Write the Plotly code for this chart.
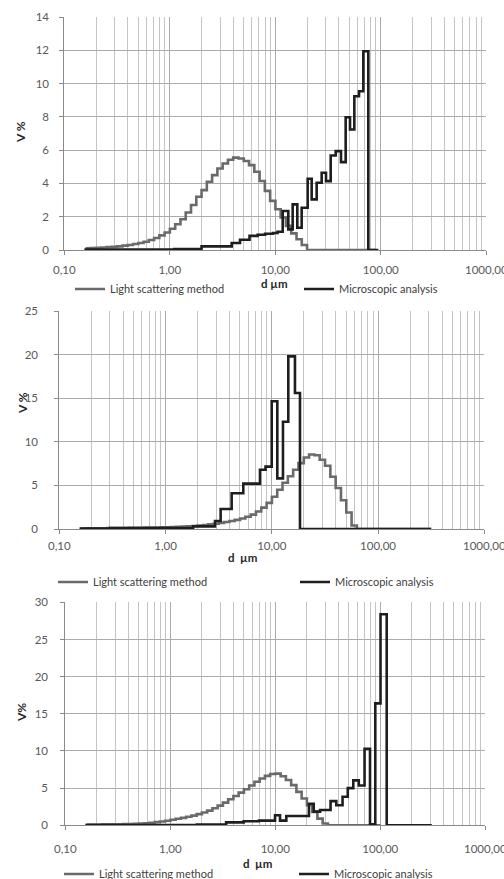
import plotly.graph_objects as go

W, H = 504, 879

# ---------------- data ----------------
# laser-diffraction size classes (µm), bin starts
ls_classes = [0.159, 0.178, 0.200, 0.224, 0.252, 0.283, 0.317, 0.356, 0.399, 0.448,
              0.502, 0.564, 0.632, 0.710, 0.796, 0.893, 1.002, 1.125, 1.262, 1.416,
              1.589, 1.783, 2.000, 2.244, 2.518, 2.825, 3.170, 3.557, 3.991, 4.477,
              5.024, 5.637, 6.325, 7.096, 7.962, 8.934, 10.024, 11.247, 12.619, 14.159,
              15.887, 17.825, 20.000, 22.440, 25.179, 28.251, 31.698, 35.566, 39.905, 44.774,
              50.238, 56.368, 63.246, 70.963, 79.621, 89.337, 100.237, 112.468, 126.191, 141.589,
              158.866, 178.250, 200.000, 224.404, 251.785, 282.508, 316.979]

# Panel 1
ls1_v = [0.10, 0.12, 0.13, 0.15, 0.17, 0.19, 0.22, 0.26, 0.30, 0.36,
         0.42, 0.50, 0.60, 0.72, 0.88, 1.05, 1.28, 1.55, 1.85, 2.25,
         2.70, 3.20, 3.60, 4.10, 4.50, 4.90, 5.20, 5.42, 5.55, 5.50,
         5.35, 5.10, 4.70, 4.15, 3.55, 2.95, 2.45, 1.95, 1.45, 1.00,
         0.65, 0.30, 0.0, 0.0, 0.0, 0.0, 0.0, 0.0, 0.0, 0.0,
         0.0, 0.0, 0.0, 0.0, 0.0, 0.0]
mic1_d = [0.155, 1.10, 2.00, 3.86, 4.63, 5.70, 6.80, 8.00, 9.50, 10.50,
          11.75, 13.29, 14.61, 16.17, 17.78, 20.27, 22.12, 24.67, 27.51, 30.24,
          33.49, 37.35, 41.95, 46.45, 51.07, 56.13, 62.17, 68.31, 76.18, 94.76]
mic1_v = [0.02, 0.06, 0.22, 0.42, 0.62, 0.85, 0.92, 0.98, 1.02, 1.10,
          2.34, 1.24, 2.74, 1.34, 2.54, 4.28, 3.04, 4.04, 4.64, 4.14,
          5.68, 5.94, 5.28, 7.98, 7.24, 9.24, 9.54, 11.94, 0.0, 0.0]

# Panel 2
ls2_v = [0.05, 0.07, 0.08, 0.08, 0.09, 0.10, 0.10, 0.11, 0.12, 0.13,
         0.14, 0.15, 0.16, 0.17, 0.18, 0.19, 0.20, 0.22, 0.25, 0.28,
         0.31, 0.35, 0.40, 0.46, 0.53, 0.60, 0.70, 0.80, 0.92, 1.05,
         1.20, 1.40, 1.65, 2.00, 2.45, 3.00, 3.70, 4.50, 5.30, 6.05,
         6.80, 7.55, 8.20, 8.55, 8.45, 7.95, 7.25, 6.00, 4.70, 3.30,
         1.90, 0.40, 0.0, 0.0, 0.0, 0.0, 0.0, 0.0, 0.0, 0.0,
         0.0, 0.0, 0.0, 0.0, 0.0, 0.0, 0.0]
mic2_d = [0.155, 0.30, 1.82, 2.92, 3.30, 4.19, 5.39, 7.74, 8.73, 9.98,
          11.27, 12.74, 14.30, 16.52, 18.42, 316.0]
mic2_v = [0.05, 0.10, 0.30, 0.92, 2.30, 4.10, 5.20, 6.80, 7.15, 14.65,
          5.80, 12.30, 19.80, 15.60, 0.0, 0.0]

# Panel 3
ls3_v = [0.10, 0.10, 0.11, 0.12, 0.13, 0.14, 0.15, 0.16, 0.18, 0.20,
         0.23, 0.28, 0.35, 0.43, 0.52, 0.62, 0.75, 0.88, 1.00, 1.15,
         1.30, 1.50, 1.72, 1.98, 2.30, 2.65, 3.05, 3.50, 3.95, 4.40,
         4.85, 5.35, 5.85, 6.30, 6.65, 6.90, 6.95, 6.60, 6.10, 5.40,
         4.50, 3.60, 2.70, 1.80, 0.90, 0.25, 0.0, 0.0, 0.0, 0.0,
         0.0, 0.0, 0.0, 0.0, 0.0, 0.0, 0.0]
mic3_d = [0.155, 1.79, 3.40, 5.00, 7.00, 9.94, 11.09, 12.73, 20.9, 23.2,
          26.7, 33.6, 38.1, 43.7, 49.0, 55.3, 62.4, 70.8, 79.8, 89.6,
          100.5, 115.1, 309.0]
mic3_v = [0.02, 0.10, 0.40, 0.55, 0.63, 1.35, 0.63, 1.26, 2.90, 1.84,
          2.06, 3.25, 2.70, 3.85, 5.00, 6.05, 5.35, 10.30, 0.12, 16.40,
          28.40, 0.0, 0.0]

series_names = ["Light scattering method", "Microscopic analysis"]
x_tick_vals = [0.1, 1, 10, 100, 1000]
x_tick_text = ["0,10", "1,00", "10,00", "100,00", "1000,00"]
y1_ticks = [0, 2, 4, 6, 8, 10, 12, 14]
y2_ticks = [0, 5, 10, 15, 20, 25]
y3_ticks = [0, 5, 10, 15, 20, 25, 30]
y_titles = ["V %", "V %", "V%"]
x_titles = ["d µm", "d\u00a0\u00a0µm", "d\u00a0\u00a0µm"]

# ---------------- style ----------------
GRAY_LINE = "#6a6a6a"
BLACK_LINE = "#1e1e1e"
GRID = "#ababab"
MINOR = "#c4c4c4"
AXIS = "#8a8a8a"
TXT = "#595959"
FONT = "Lato"

minor_grid = [m * 10.0 ** e for e in range(-1, 3) for m in range(2, 10)]

def px_x(p):
    return p / W

def px_y(p):
    return 1 - p / H

# plot-area pixel boxes: (left, right, top, bottom)
boxes = [(64.3, 486.3, 17.0, 250.0),
         (59.3, 484.3, 311.0, 529.0),
         (65.3, 485.3, 602.3, 825.3)]
x_standoff = [5, 2, 9]
y_standoff = [8, 14, 10]

fig = go.Figure()

panels = [
    (ls1_v, mic1_d, mic1_v, y1_ticks, 14),
    (ls2_v, mic2_d, mic2_v, y2_ticks, 25),
    (ls3_v, mic3_d, mic3_v, y3_ticks, 30),
]
legend_ids = ["legend", "legend2", "legend3"]

for i, (lsv, md, mv, yt, ymax) in enumerate(panels):
    k = "" if i == 0 else str(i + 1)
    fig.add_trace(go.Scatter(
        x=ls_classes[:len(lsv)], y=lsv, mode="lines", name=series_names[0],
        line=dict(color=GRAY_LINE, width=2.6, shape="hv"),
        xaxis="x" + k, yaxis="y" + k, legend=legend_ids[i]))
    fig.add_trace(go.Scatter(
        x=md, y=mv, mode="lines", name=series_names[1],
        line=dict(color=BLACK_LINE, width=2.6, shape="hv"),
        xaxis="x" + k, yaxis="y" + k, legend=legend_ids[i]))

    l, r, t, b = boxes[i]
    fig.layout["xaxis" + k] = dict(
        type="log", range=[-1, 3], domain=[px_x(l), px_x(r)], anchor="y" + k,
        tickmode="array", tickvals=x_tick_vals, ticktext=x_tick_text,
        ticklabeloverflow="allow", ticklabelstandoff=x_standoff[i],
        showgrid=True, gridcolor=GRID, gridwidth=1,
        minor=dict(tickmode="array", tickvals=minor_grid, showgrid=True,
                   gridcolor=MINOR, gridwidth=1, ticks=""),
        showline=True, linecolor=AXIS, linewidth=1,
        ticks="outside", ticklen=4, tickcolor=AXIS,
        tickfont=dict(family=FONT, size=11.5, color=TXT), zeroline=False)
    fig.layout["yaxis" + k] = dict(
        range=[0, ymax], domain=[px_y(b), px_y(t)], anchor="x" + k,
        tickmode="array", tickvals=yt, ticktext=[str(v) for v in yt],
        ticklabelstandoff=y_standoff[i],
        showgrid=True, gridcolor=GRID, gridwidth=1,
        showline=True, linecolor=AXIS, linewidth=1,
        ticks="outside", ticklen=4, tickcolor=AXIS,
        tickfont=dict(family=FONT, size=11.5, color=TXT), zeroline=False)

# axis titles placed where they sit in the original
xt_pos = [(274, 283), (242, 557), (257, 863)]
yt_pos = [(20, 132), (22, 403), (21, 713)]
ann = []
for i in range(3):
    ann.append(dict(text="<b>%s</b>" % x_titles[i], x=px_x(xt_pos[i][0]), y=px_y(xt_pos[i][1]),
                    xref="paper", yref="paper", showarrow=False,
                    xanchor="center", yanchor="middle",
                    font=dict(family=FONT, size=11.5, color="#262626")))
    ann.append(dict(text="<b>%s</b>" % y_titles[i], x=px_x(yt_pos[i][0]), y=px_y(yt_pos[i][1]),
                    xref="paper", yref="paper", showarrow=False, textangle=-90,
                    xanchor="center", yanchor="middle",
                    font=dict(family=FONT, size=12, color="#262626")))

leg_pos = [(70, 289), (53, 582), (59, 874)]
leg_entry = [184, 197, 190]
legends = {}
for i, lid in enumerate(legend_ids):
    legends[lid] = dict(orientation="h", xanchor="left", yanchor="middle",
                        x=px_x(leg_pos[i][0]), y=px_y(leg_pos[i][1]),
                        entrywidth=leg_entry[i], entrywidthmode="pixels",
                        bgcolor="rgba(0,0,0,0)", borderwidth=0,
                        font=dict(family=FONT, size=11, color="#404040"))

fig.update_layout(
    width=W, height=H, autosize=False,
    margin=dict(l=0, r=0, t=0, b=0, autoexpand=False),
    paper_bgcolor="white", plot_bgcolor="white",
    annotations=ann,
    **legends,
)

fig.write_html("out.html", config={"displayModeBar": False},
               post_script="document.body.style.margin='0px';")
